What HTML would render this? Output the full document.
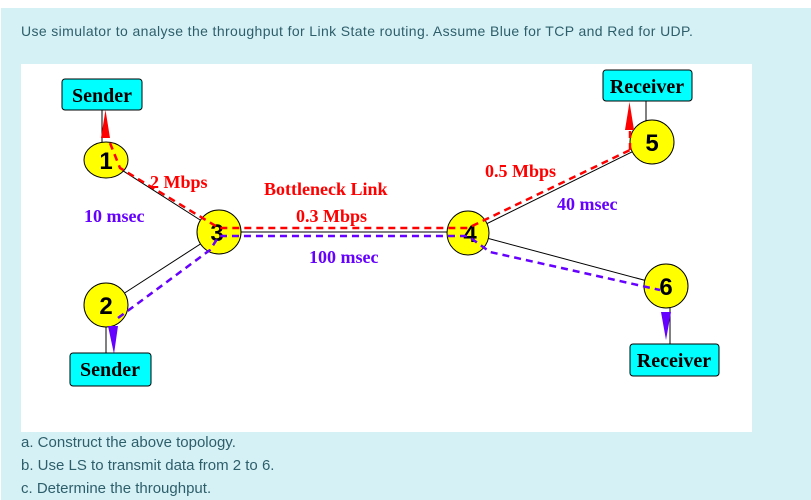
<!DOCTYPE html>
<html><head><meta charset="utf-8"><style>
body{margin:0;width:811px;height:500px;background:#fff;overflow:hidden;font-family:"Liberation Sans",sans-serif}
#bg{position:absolute;left:1px;top:8px;width:810px;height:492px;background:#d6f1f6}
.t{position:absolute;left:21px;color:#2d5f6b;font-size:14px;white-space:nowrap}
svg{position:absolute;left:0;top:0}
</style></head><body>
<div id="bg"></div>
<div class="t" style="top:23px;letter-spacing:0.38px">Use simulator to analyse the throughput for Link State routing. Assume Blue for TCP and Red for UDP.</div>
<svg width="811" height="500" font-family="Liberation Serif, serif" font-weight="bold">
<rect x="21" y="64" width="731" height="368" fill="#fff"/>
<g stroke="#000" stroke-width="1">
<line x1="102" y1="110" x2="102" y2="143"/><line x1="106" y1="160" x2="219" y2="232"/>
<line x1="106" y1="305" x2="219" y2="232"/><line x1="219" y1="232" x2="468" y2="232"/>
<line x1="468" y1="233" x2="652" y2="142"/><line x1="468" y1="233" x2="666" y2="286"/>
<line x1="646" y1="101" x2="646" y2="124"/><line x1="106" y1="322" x2="106" y2="353"/><line x1="670" y1="306" x2="670" y2="344"/>
</g>
<g fill="#ffff00" stroke="#000">
<ellipse cx="106" cy="160" rx="22" ry="18"/><ellipse cx="106" cy="305" rx="22" ry="22"/>
<ellipse cx="219" cy="232" rx="22" ry="22"/><ellipse cx="468" cy="233" rx="21" ry="22"/>
<ellipse cx="652" cy="142" rx="22" ry="22"/><ellipse cx="666" cy="286" rx="22" ry="22"/>
</g>
<g font-family="Liberation Sans, sans-serif" font-size="24" text-anchor="middle" fill="#000">
<text x="106" y="169">1</text>
<text x="106" y="314">2</text>
<text x="217" y="241">3</text>
<text x="470" y="242">4</text>
<text x="652" y="151">5</text>
<text x="666" y="295">6</text>
</g>
<g fill="none" stroke="#ff0000" stroke-width="2.5" stroke-dasharray="7,5">
<polyline points="110,143 120,168 219,228 468,228 630,150"/>
<line x1="630" y1="150" x2="630" y2="120"/>
</g>
<polygon points="101,138 110,138 105.5,110" fill="#ff0000"/>
<polygon points="625,130 634,130 629.5,102" fill="#ff0000"/>
<g fill="none" stroke="#6600ff" stroke-width="2.5" stroke-dasharray="7,5">
<polyline points="118,318 210,250 219,236 468,236 490,252 660,290"/>
</g>
<polygon points="108,326 118,326 114,354" fill="#6600ff"/>
<polygon points="661,312 671,312 666,340" fill="#6600ff"/>
<g stroke="#000" fill="#00ffff">
<rect x="62" y="79" width="80" height="31" rx="3"/>
<rect x="603" y="70" width="89" height="31" rx="3"/>
<rect x="70" y="353" width="81" height="33" rx="3"/>
<rect x="630" y="344" width="89" height="32" rx="3"/>
</g>
<g font-size="20" fill="#000" text-anchor="middle">
<text x="102" y="102">Sender</text>
<text x="647" y="93">Receiver</text>
<text x="110" y="376">Sender</text>
<text x="674" y="367">Receiver</text>
</g>
<g font-size="18">
<text x="150" y="188" fill="#ff0000">2 Mbps</text>
<text x="84" y="222" fill="#6600ff">10 msec</text>
<text x="264" y="195" fill="#ff0000">Bottleneck Link</text>
<text x="296" y="222" fill="#ff0000">0.3 Mbps</text>
<text x="309" y="263" fill="#6600ff">100 msec</text>
<text x="485" y="177" fill="#ff0000">0.5 Mbps</text>
<text x="557" y="210" fill="#6600ff">40 msec</text>
</g>
</svg>
<div class="t" style="top:434px;font-size:15px">a. Construct the above topology.</div>
<div class="t" style="top:457px;font-size:15px">b. Use LS to transmit data from 2 to 6.</div>
<div class="t" style="top:480px;font-size:15px">c. Determine the throughput.</div>
</body></html>
